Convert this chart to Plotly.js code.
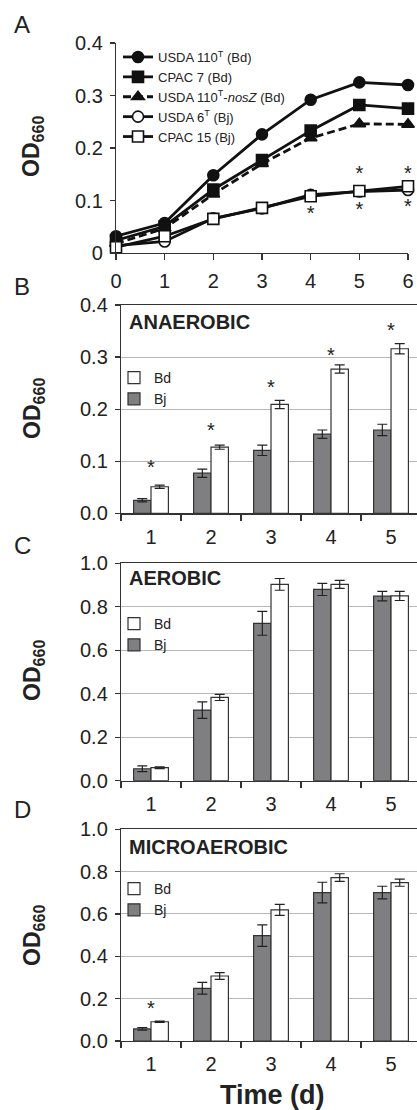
<!DOCTYPE html>
<html><head><meta charset="utf-8">
<script src="https://cdn.plot.ly/plotly-3.0.1.min.js"></script>
<style>html,body{margin:0;padding:0;background:#fff;overflow:hidden}#g{width:417px;height:1110px}</style>
</head><body><div id="g"></div>
<script>
// ---- Panel A data (growth curves) ----
const days = [0, 1, 2, 3, 4, 5, 6];
const usda110 = [0.032, 0.057, 0.148, 0.226, 0.292, 0.325, 0.320];
const cpac7   = [0.024, 0.051, 0.121, 0.177, 0.233, 0.282, 0.275];
const nosZ    = [0.018, 0.047, 0.112, 0.170, 0.219, 0.246, 0.245];
const usda6   = [0.014, 0.022, 0.066, 0.085, 0.111, 0.117, 0.120];
const cpac15  = [0.011, 0.032, 0.065, 0.086, 0.108, 0.118, 0.127];
const starAx = [4, 5, 5, 6, 6];
const starAy = [0.072, 0.148, 0.080, 0.148, 0.085];

// ---- Bar panels ----
const cats = ['1', '2', '3', '4', '5'];
const anaBj = [0.025, 0.077, 0.121, 0.152, 0.160];
const anaBjErr = [0.003, 0.008, 0.010, 0.008, 0.011];
const anaBd = [0.051, 0.127, 0.209, 0.277, 0.316];
const anaBdErr = [0.003, 0.004, 0.008, 0.008, 0.010];
const anaStarY = [0.086, 0.157, 0.239, 0.300, 0.348];

const aerBj = [0.055, 0.325, 0.724, 0.880, 0.849];
const aerBjErr = [0.013, 0.038, 0.055, 0.028, 0.022];
const aerBd = [0.060, 0.383, 0.903, 0.903, 0.850];
const aerBdErr = [0.004, 0.014, 0.027, 0.018, 0.021];

const micBj = [0.057, 0.249, 0.498, 0.701, 0.701];
const micBjErr = [0.006, 0.028, 0.051, 0.049, 0.030];
const micBd = [0.091, 0.307, 0.619, 0.772, 0.748];
const micBdErr = [0.003, 0.016, 0.026, 0.018, 0.017];
const micStarX = ['1'];
const micStarY = [0.145];

const W = 417, H = 1110;
const FONT = 'Liberation Sans, Arial, sans-serif';
const px = v => v / W;
const py = v => 1 - v / H;

function lineTrace(y, name, symbol, fill, dash) {
  return {x: days, y: y, name: name, type: 'scatter', mode: 'lines+markers',
    xaxis: 'x', yaxis: 'y', cliponaxis: false, legend: 'legend',
    line: {color: '#111', width: 2.8, dash: dash || 'solid'},
    marker: {symbol: symbol, size: 11, color: fill,
      line: {color: '#111', width: 1.6}}};
}
function barTraces(n, bj, bjE, bd, bdE) {
  const ax = 'x' + n, ay = 'y' + n, lg = 'legend' + n;
  return [
    {type: 'bar', x: cats, y: bj, name: 'Bj', xaxis: ax, yaxis: ay, legend: lg,
      marker: {color: '#7f7f81', line: {color: '#333', width: 1.2}},
      error_y: {type: 'data', array: bjE, color: '#222', thickness: 1.2, width: 5}},
    {type: 'bar', x: cats, y: bd, name: 'Bd', xaxis: ax, yaxis: ay, legend: lg,
      marker: {color: '#ffffff', line: {color: '#333', width: 1.2}},
      error_y: {type: 'data', array: bdE, color: '#222', thickness: 1.2, width: 5}}
  ];
}
function starTrace(x, y, ax, ay) {
  return {type: 'scatter', mode: 'text', x: x, y: y, text: x.map(() => '*'),
    textfont: {family: FONT, size: 20, color: '#222'}, textposition: 'middle center',
    xaxis: ax, yaxis: ay, showlegend: false, cliponaxis: false, hoverinfo: 'skip'};
}

const data = [
  lineTrace(usda110, 'USDA 110<sup>T</sup> (Bd)', 'circle', '#111'),
  lineTrace(cpac7, 'CPAC 7 (Bd)', 'square', '#111'),
  lineTrace(nosZ, 'USDA 110<sup>T</sup>-<i>nosZ</i> (Bd)', 'triangle-up', '#111', '8px,4px'),
  lineTrace(usda6, 'USDA 6<sup>T</sup> (Bj)', 'circle', '#fff'),
  lineTrace(cpac15, 'CPAC 15 (Bj)', 'square', '#fff'),
  starTrace(starAx, starAy, 'x', 'y'),
  ...barTraces(2, anaBj, anaBjErr, anaBd, anaBdErr),
  starTrace(cats, anaStarY, 'x2', 'y2'),
  ...barTraces(3, aerBj, aerBjErr, aerBd, aerBdErr),
  ...barTraces(4, micBj, micBjErr, micBd, micBdErr),
  starTrace(micStarX, micStarY, 'x4', 'y4')
];

const tickFont = {family: FONT, size: 20, color: '#222'};
function barX(anchor) {
  return {domain: [px(121), 1], anchor: anchor, type: 'category', range: [-0.5, 4.433],
    tickson: 'boundaries', ticks: 'outside', ticklen: 6, tickcolor: '#333', tickwidth: 1.2,
    showline: true, linecolor: '#333', linewidth: 1.2, mirror: true, showgrid: false,
    tickfont: tickFont, ticklabelstandoff: 5, fixedrange: true};
}
function barY(anchor, top, bottom, max, dt) {
  return {domain: [py(bottom), py(top)], anchor: anchor, range: [0, max], dtick: dt,
    tickformat: '.1f', ticks: 'outside', ticklen: 5, tickcolor: '#333', tickwidth: 1.2,
    showline: true, linecolor: '#333', linewidth: 1.2, showgrid: true, gridcolor: '#b8b8b8',
    gridwidth: 1, zeroline: false, tickfont: tickFont, ticklabelstandoff: 3, fixedrange: true};
}
function barLegend(ytop) {
  return {x: px(114), xanchor: 'left', y: py(ytop), yanchor: 'top', bgcolor: 'rgba(0,0,0,0)',
    font: {family: FONT, size: 14, color: '#222'}, traceorder: 'reversed', itemwidth: 30,
    tracegroupgap: 0};
}

const titleFont = {family: FONT, size: 23, color: '#222', weight: 'bold'};
function yTitle(cy) {
  return {text: '<b>OD<sub>660</sub></b>', xref: 'paper', yref: 'paper', x: px(33), y: py(cy),
    xanchor: 'center', yanchor: 'middle', textangle: -90, showarrow: false, font: titleFont};
}
function panelLetter(t, cy) {
  return {text: t, xref: 'paper', yref: 'paper', x: px(22), y: py(cy), xanchor: 'center',
    yanchor: 'middle', showarrow: false, font: {family: FONT, size: 24, color: '#222'}};
}
function condLabel(t, cy) {
  return {text: '<b>' + t + '</b>', xref: 'paper', yref: 'paper', x: px(127), y: py(cy),
    xanchor: 'left', yanchor: 'middle', showarrow: false,
    font: {family: FONT, size: 20, color: '#222'}};
}

const layout = {
  width: W, height: H, margin: {l: 0, r: 0, t: 0, b: 0},
  paper_bgcolor: '#fff', plot_bgcolor: '#fff', font: {family: FONT, color: '#222'},
  barmode: 'group', bargap: 0.42, bargroupgap: 0, showlegend: true,
  xaxis: {domain: [px(116), px(408)], anchor: 'y', range: [0, 6], dtick: 1,
    ticks: 'outside', ticklen: 6, tickcolor: '#333', tickwidth: 1.2, showline: true,
    linecolor: '#333', linewidth: 1.2, showgrid: false, zeroline: false, tickfont: tickFont,
    ticklabelstandoff: 4, fixedrange: true},
  yaxis: {domain: [py(253), py(43)], anchor: 'x', range: [0, 0.4],
    tickvals: [0, 0.1, 0.2, 0.3, 0.4], ticktext: ['0', '0.1', '0.2', '0.3', '0.4'],
    ticks: 'outside', ticklen: 5, tickcolor: '#333', tickwidth: 1.2, showline: true,
    linecolor: '#333', linewidth: 1.2, showgrid: false, zeroline: false, tickfont: tickFont,
    ticklabelstandoff: 3, fixedrange: true},
  xaxis2: barX('y2'), yaxis2: barY('x2', 305, 513.3, 0.4, 0.1),
  xaxis3: barX('y3'), yaxis3: barY('x3', 563.3, 780.7, 1.0, 0.2),
  xaxis4: barX('y4'), yaxis4: barY('x4', 829.3, 1041, 1.0, 0.2),
  legend: {x: px(118), xanchor: 'left', y: py(42), yanchor: 'top', bgcolor: 'rgba(0,0,0,0)',
    font: {family: FONT, size: 13, color: '#222'}, itemwidth: 30, tracegroupgap: 0},
  legend2: barLegend(362),
  legend3: barLegend(608),
  legend4: barLegend(873),
  annotations: [
    panelLetter('A', 24), panelLetter('B', 286), panelLetter('C', 545), panelLetter('D', 809),
    yTitle(147), yTitle(409), yTitle(671), yTitle(936),
    condLabel('ANAEROBIC', 322), condLabel('AEROBIC', 578), condLabel('MICROAEROBIC', 847),
    {text: '<b>Time (d)</b>', xref: 'paper', yref: 'paper', x: px(272), y: py(1095),
      xanchor: 'center', yanchor: 'middle', showarrow: false,
      font: {family: FONT, size: 27, color: '#222'}}
  ]
};

Plotly.newPlot('g', data, layout, {staticPlot: true, displayModeBar: false});
</script></body></html>
